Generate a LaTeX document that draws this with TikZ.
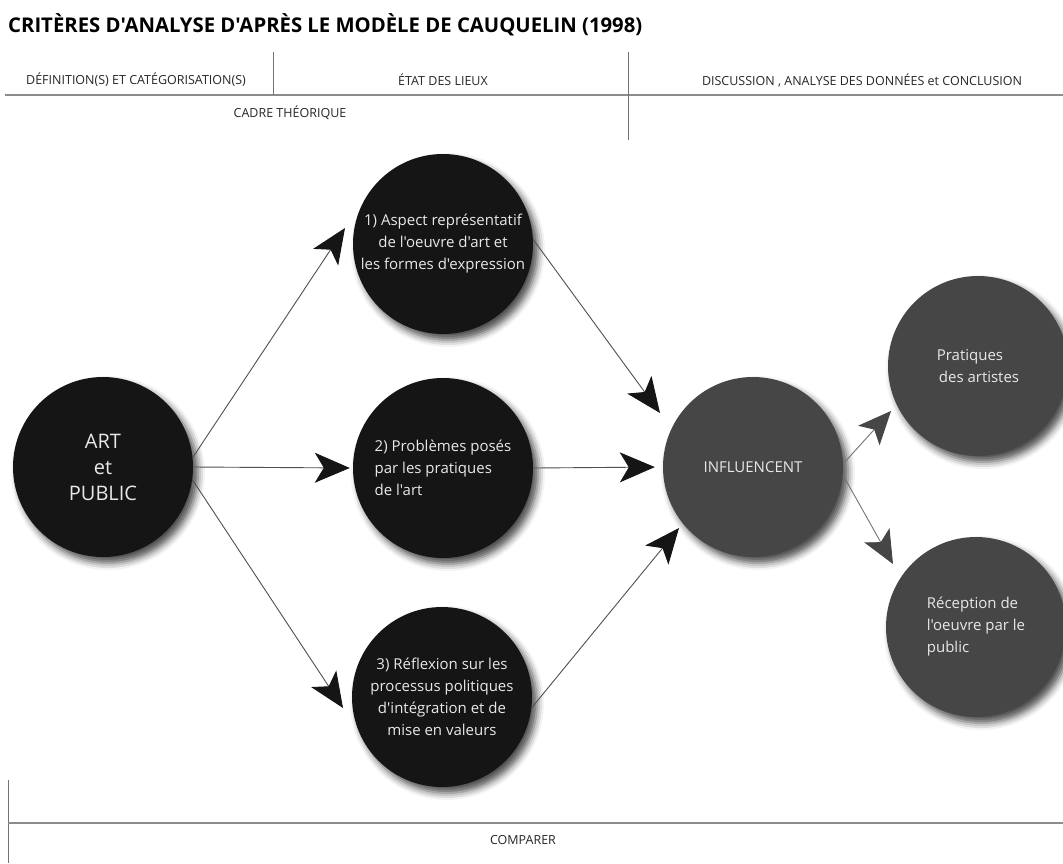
\documentclass[tikz,border=0pt]{standalone}
\usepackage{fontspec}
\setmainfont{Open Sans}[Ligatures=TeXOff]
\usetikzlibrary{arrows.meta,shadows.blur}

\definecolor{inkblack}{HTML}{151515}
\definecolor{inkgray}{HTML}{464646}
\definecolor{rulegray}{HTML}{8C8C8C}
\definecolor{txtlight}{HTML}{E8E8E8}
\definecolor{linkgray}{HTML}{505050}

\begin{document}
\begin{tikzpicture}[x=1pt,y=-1pt,
  bubble/.style={circle, minimum size=180pt, inner sep=0pt, text=txtlight,
    font=\fontsize{15}{22}\selectfont,
    blur shadow={shadow xshift=5pt, shadow yshift=-6pt,
      shadow blur radius=7pt, shadow opacity=70}},
  darkbubble/.style={bubble, fill=inkblack},
  greybubble/.style={bubble, fill=inkgray},
  rulethick/.style={draw=rulegray, line width=1.8pt},
  rulethin/.style={draw=black!55, line width=1pt},
  headtxt/.style={font=\fontsize{12.5}{15}\selectfont, text=black!85, inner sep=0pt},
  link/.style={draw=linkgray, line width=0.9pt,
    -{Stealth[length=35pt, width=30pt, inset=9pt, color=inkblack]}},
  linkgrey/.style={draw=linkgray!80, line width=0.9pt,
    -{Stealth[length=33pt, width=29pt, inset=8pt, color=inkgray]}}
]
\useasboundingbox (0,0) rectangle (1063,863);

% title
\node[anchor=west, inner sep=0pt] (title) at (8,25)
  {\resizebox{634pt}{!}{\bfseries CRITÈRES D'ANALYSE D'APRÈS LE MODÈLE DE CAUQUELIN (1998)}};

% header band
\draw[rulethick] (5,95) -- (1063,95);
\draw[rulethin] (273,52) -- (273,95);
\draw[rulethin] (628,52) -- (628,140);
\node[headtxt] (defs) at (136,80) {DÉFINITION(S) ET CATÉGORISATION(S)};
\node[headtxt] (etat) at (443,80) {ÉTAT DES LIEUX};
\node[headtxt] (disc) at (862,80) {DISCUSSION , ANALYSE DES DONNÉES et CONCLUSION};
\node[headtxt] (cadre) at (290,113) {CADRE THÉORIQUE};

% footer band
\draw[rulethin] (8,780) -- (8,863);
\draw[rulethick] (8,823) -- (1063,823);
\node[headtxt] (comparer) at (523,840) {COMPARER};

% circles
\node[darkbubble, font=\fontsize{20}{26}\selectfont, align=center] (art) at (103,467)
  {ART\\et\\PUBLIC};
\node[darkbubble, align=center] (c1) at (443,244)
  {1) Aspect représentatif\\de l'oeuvre d'art et\\les formes d'expression};
\node[darkbubble, align=left] (c2) at (443,468)
  {2) Problèmes posés\\par les pratiques\\de l'art};
\node[darkbubble, align=center] (c3) at (442,697)
  {3) Réflexion sur les\\processus politiques\\d'intégration et de\\mise en valeurs};
\node[greybubble] (inf) at (753,467) {INFLUENCENT};
\node[greybubble, align=left] (prat) at (978,366)
  {Pratiques\\\hspace*{2pt}des artistes};
\node[greybubble, align=left] (recep) at (976,627)
  {Réception de\\l'oeuvre par le\\public};

% arrow tips that stop short of their targets
\path (c1.center) ++(-98,-16) coordinate (tipA);
\path (c3.center) ++(-99,11) coordinate (tipC);
\path (inf.center) ++(-93,-54) coordinate (tipD);
\path (inf.center) ++(-74,61) coordinate (tipF);
\path (prat.center) ++(-87,45) coordinate (tipG);
\path (recep.center) ++(-83,-63) coordinate (tipH);

% connectors
\draw[link] (art.6) -- (tipA);
\draw[link, shorten >=3pt] (art.east) -- (c2.west);
\draw[link] (art.-8) -- (tipC);
\draw[link] (c1.3) -- (tipD);
\draw[link, shorten >=8pt] (c2.east) -- (inf.west);
\draw[link] (c3.-7) -- (tipF);
\draw[linkgrey] (inf.2) -- (tipG);
\draw[linkgrey] (inf.-5) -- (tipH);
\end{tikzpicture}
\end{document}
